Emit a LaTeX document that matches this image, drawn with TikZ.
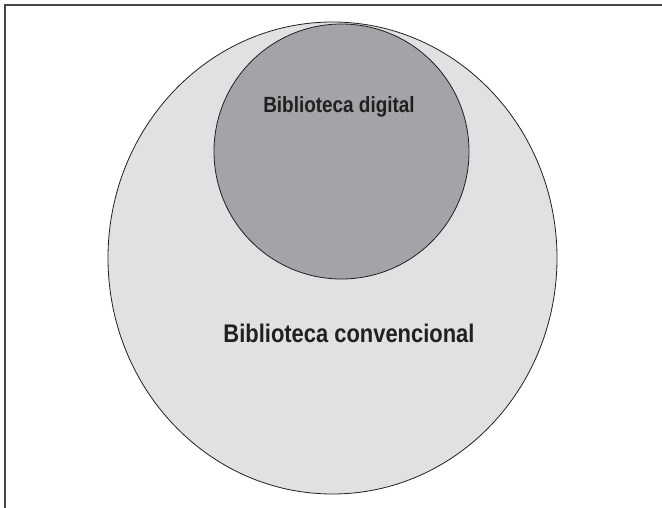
\documentclass[tikz,border=0pt]{standalone}
\usepackage{fontspec}
\setmainfont{Liberation Sans}
\newfontfamily\narrowfont[FakeStretch=0.86]{Liberation Sans}
\usetikzlibrary{shapes.geometric}
\definecolor{outerfill}{RGB}{224,225,227}
\definecolor{innerfill}{RGB}{162,164,167}
\definecolor{inkcol}{RGB}{35,31,32}
\definecolor{framecol}{RGB}{70,70,70}
\tikzset{
  venn/.style={ellipse, draw=inkcol, line width=0.8pt, inner sep=0pt},
  lbl/.style={text=inkcol, font=\narrowfont\bfseries, inner sep=0pt, anchor=base}
}
\begin{document}
\begin{tikzpicture}[x=1pt,y=-1pt]
\useasboundingbox (0,0) rectangle (662,508);
\fill[white] (0,0) rectangle (662,508);
\coordinate (tl) at (5,5);
\coordinate (tr) at (662,5);
\coordinate (bl) at (5,508);
\draw[framecol, line width=1.6pt] (tr) -- (tl) -- (bl);
\node[venn, fill=outerfill, minimum width=449pt, minimum height=472pt] (outer) at (332.5,258) {};
\node[venn, fill=innerfill, minimum width=255pt, minimum height=255pt] (inner) at (341.5,151.5) {};
\node[lbl, font=\narrowfont\bfseries\fontsize{22}{26}\selectfont] (dig) at (339,112.3) {Biblioteca digital};
\node[lbl, font=\narrowfont\bfseries\fontsize{25.5}{30}\selectfont] (conv) at (349,342.3) {Biblioteca convencional};
\end{tikzpicture}
\end{document}
